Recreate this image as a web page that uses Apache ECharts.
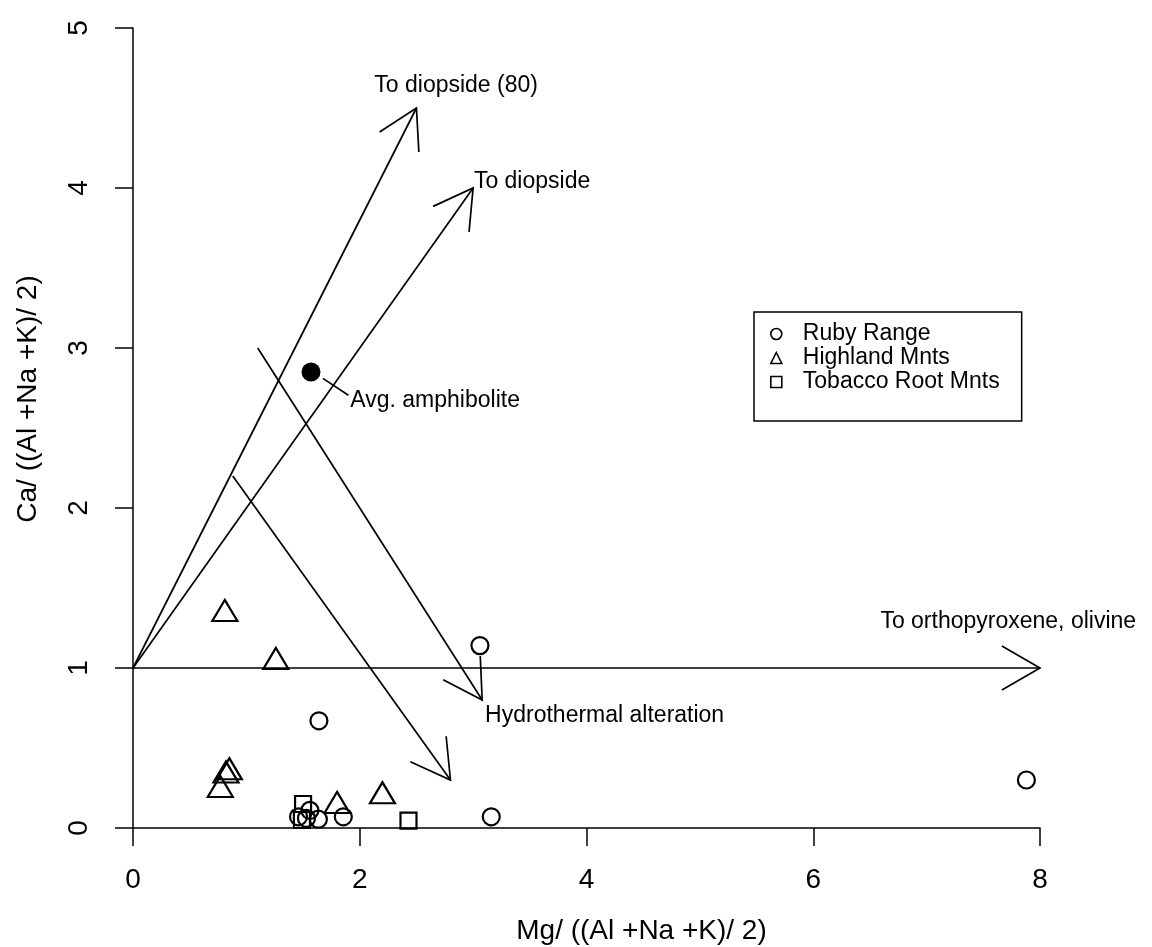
<!DOCTYPE html>
<html>
<head>
<meta charset="utf-8">
<script src="https://cdn.jsdelivr.net/npm/echarts@6.0.0/dist/echarts.min.js"></script>
<style>
  html, body { margin: 0; padding: 0; background: #fff; }
  #chart { width: 1152px; height: 947px; }
</style>
</head>
<body>
<div id="chart"></div>
<script type="text/javascript">
  // Ruby Range (circles)
  var rubyX = [3.06, 1.64, 7.88, 3.16, 1.855, 1.46, 1.56, 1.53, 1.635];
  var rubyY = [1.14, 0.67, 0.30, 0.07, 0.07, 0.07, 0.11, 0.06, 0.055];
  // Highland Mnts (triangles)
  var highX = [0.81, 1.26, 0.82, 0.85, 0.77, 1.80, 2.20];
  var highY = [1.36, 1.06, 0.35, 0.37, 0.26, 0.16, 0.22];
  // Tobacco Root Mnts (squares)
  var tobX = [1.50, 1.49, 2.43];
  var tobY = [0.15, 0.05, 0.046];
  // Avg. amphibolite
  var avgX = [1.57];
  var avgY = [2.85];

  // arrows: start / end in data units
  var arrowStart = [[0, 1], [0, 1], [0, 1], [1.1, 3.0], [0.88, 2.2]];
  var arrowEnd = [[2.5, 4.5], [3, 4], [8, 1], [3.08, 0.8], [2.8, 0.3]];
  // pointer line for the amphibolite label (no head)
  var pointerStart = [1.675, 2.81];
  var pointerEnd = [1.9, 2.705];

  // annotation texts and their centres
  var noteText = ['To diopside (80)', 'To diopside', 'To orthopyroxene, olivine', 'Hydrothermal alteration', 'Avg. amphibolite'];
  var notePos = [[2.85, 4.64], [3.52, 4.04], [7.72, 1.29], [4.16, 0.70], [2.665, 2.67]];

  var xTicks = [0, 8, 2];   // min, max, step
  var yTicks = [0, 5, 1];

  var font = 'Liberation Sans, Arial, sans-serif';
  var fs = 23;      // annotations, legend
  var fsAxis = 28;  // tick labels, axis titles

  function pairs(xs, ys) {
    return xs.map(function (x, i) { return [x, ys[i]]; });
  }

  var segData = arrowStart.map(function (s, i) {
    return [s[0], s[1], arrowEnd[i][0], arrowEnd[i][1], 1];
  });
  segData.push([pointerStart[0], pointerStart[1], pointerEnd[0], pointerEnd[1], 0]);

  var myChart = echarts.init(document.getElementById('chart'));

  // scatter defaults to opacity 0.8, R symbols are solid black
  var hollow = {color: 'rgba(255,255,255,0)', borderColor: '#000', borderWidth: 2.2, opacity: 1};

  var option = {
    animation: false,
    backgroundColor: '#fff',
    grid: {left: 133, right: 112, top: 28, bottom: 119, containLabel: false, outerBoundsMode: 'none'},
    legend: {
      left: 754,
      top: 312,
      orient: 'vertical',
      selectedMode: false,
      data: [
        {name: 'Ruby Range', icon: 'circle'},
        {name: 'Highland Mnts', icon: 'triangle'},
        {name: 'Tobacco Root Mnts', icon: 'rect'}
      ],
      itemWidth: 11,
      itemHeight: 11,
      itemGap: 0,
      itemStyle: {borderWidth: 1.6, opacity: 1},
      padding: [10, 22, 27, 16],
      borderColor: '#000',
      borderWidth: 1.5,
      borderRadius: 0,
      textStyle: {color: '#000', fontFamily: font, fontSize: fs, lineHeight: 24, padding: [0, 0, 0, 16]}
    },
    xAxis: {
      type: 'value',
      min: xTicks[0],
      max: xTicks[1],
      interval: xTicks[2],
      name: 'Mg/ ((Al +Na +K)/ 2)',
      nameLocation: 'middle',
      nameGap: 89,
      // R centres the title on its (wider) plot region
      nameTextStyle: {color: '#000', fontFamily: font, fontSize: fsAxis, padding: [0, 0, 0, 110]},
      axisLine: {show: true, lineStyle: {color: '#000', width: 1.5}},
      axisTick: {show: true, length: 18, lineStyle: {color: '#000', width: 1.5}},
      axisLabel: {color: '#000', fontFamily: font, fontSize: fsAxis, margin: 38},
      splitLine: {show: false}
    },
    yAxis: {
      type: 'value',
      min: yTicks[0],
      max: yTicks[1],
      interval: yTicks[2],
      name: 'Ca/ ((Al +Na +K)/ 2)',
      nameLocation: 'middle',
      nameGap: 91,
      nameTextStyle: {color: '#000', fontFamily: font, fontSize: fsAxis, padding: [0, 0, 0, 58]},
      axisLine: {show: true, lineStyle: {color: '#000', width: 1.5}},
      axisTick: {show: true, length: 18, lineStyle: {color: '#000', width: 1.5}},
      axisLabel: {color: '#000', fontFamily: font, fontSize: fsAxis, margin: 40, rotate: 90},
      splitLine: {show: false}
    },
    series: [
      {
        name: 'arrows',
        type: 'custom',
        silent: true,
        encode: {x: [0, 2], y: [1, 3]},
        data: segData,
        renderItem: function (params, api) {
          var p0 = api.coord([api.value(0), api.value(1)]);
          var p1 = api.coord([api.value(2), api.value(3)]);
          var kids = [{
            type: 'line',
            shape: {x1: p0[0], y1: p0[1], x2: p1[0], y2: p1[1]},
            style: {stroke: '#000', lineWidth: 1.7}
          }];
          if (api.value(4)) {
            var a = Math.atan2(p0[1] - p1[1], p0[0] - p1[0]);
            var L = 44, t = Math.PI / 6;
            kids.push({
              type: 'polyline',
              shape: {points: [
                [p1[0] + L * Math.cos(a + t), p1[1] + L * Math.sin(a + t)],
                [p1[0], p1[1]],
                [p1[0] + L * Math.cos(a - t), p1[1] + L * Math.sin(a - t)]
              ]},
              style: {stroke: '#000', fill: null, lineWidth: 1.7}
            });
          }
          return {type: 'group', children: kids};
        }
      },
      {
        name: 'notes',
        type: 'custom',
        silent: true,
        data: notePos,
        renderItem: function (params, api) {
          var p = api.coord([api.value(0), api.value(1)]);
          return {
            type: 'text',
            x: p[0],
            y: p[1],
            style: {
              text: noteText[params.dataIndex],
              fill: '#000',
              font: fs + 'px ' + font,
              align: 'center',
              verticalAlign: 'middle'
            }
          };
        }
      },
      {
        name: 'Ruby Range',
        type: 'scatter',
        symbol: 'circle',
        symbolSize: 17,
        itemStyle: hollow,
        data: pairs(rubyX, rubyY)
      },
      {
        name: 'Highland Mnts',
        type: 'scatter',
        symbol: 'triangle',
        symbolSize: [25, 21],
        itemStyle: hollow,
        data: pairs(highX, highY)
      },
      {
        name: 'Tobacco Root Mnts',
        type: 'scatter',
        symbol: 'rect',
        symbolSize: 16,
        itemStyle: hollow,
        data: pairs(tobX, tobY)
      },
      {
        name: 'Avg. amphibolite',
        type: 'scatter',
        symbol: 'circle',
        symbolSize: 19,
        itemStyle: {color: '#000', opacity: 1},
        data: pairs(avgX, avgY)
      }
    ]
  };
  myChart.setOption(option);
</script>
</body>
</html>
